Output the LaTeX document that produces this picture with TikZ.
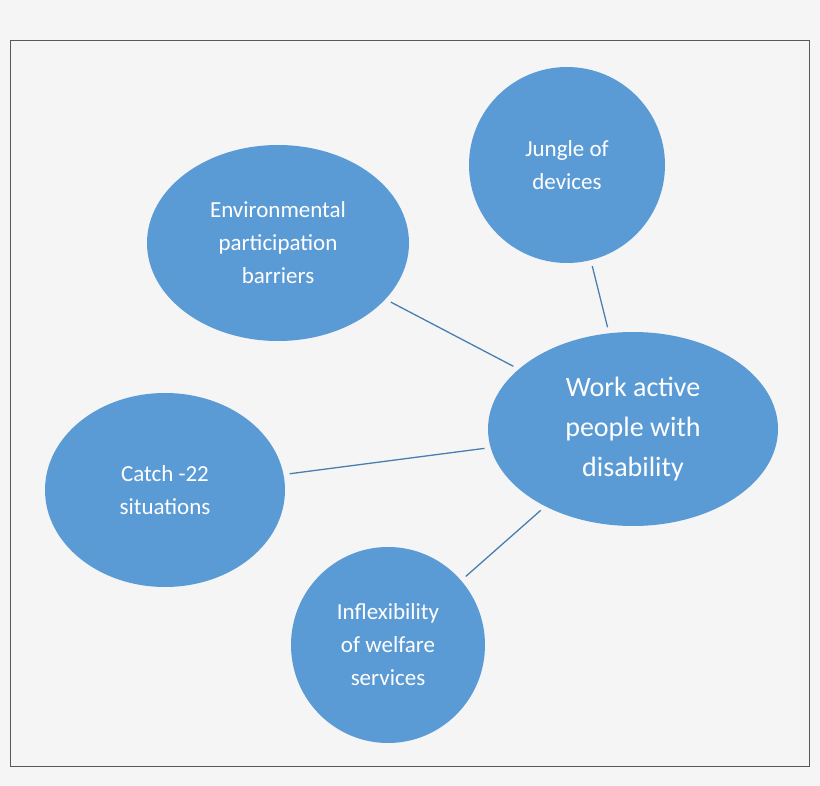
\documentclass[tikz,border=0pt]{standalone}
\usepackage{fontspec}
\setmainfont{Carlito}
\usetikzlibrary{shapes.geometric}
\definecolor{bubble}{HTML}{5B9BD5}
\definecolor{link}{HTML}{4A7EB0}
\definecolor{paper}{HTML}{F5F5F5}

\begin{document}
\begin{tikzpicture}[x=1pt, y=-1pt]
  \tikzset{topic/.style={ellipse, fill=bubble, text=white, align=center, inner sep=0pt,
      font=\fontsize{23}{33}\selectfont}}
  \tikzset{link_line/.style={draw=link, line width=1.3pt, shorten <=6pt, shorten >=6pt}}

  \fill[paper] (0,0) rectangle (820,786);
  \useasboundingbox (0,0) rectangle (820,786);
  \draw[gray!70!black, line width=0.6pt] (10,40) rectangle (809,766);

  \node[topic, minimum width=290pt, minimum height=194pt,
        font=\fontsize{28}{40}\selectfont] (work) at (633,429) {Work active\\people  with\\disability};
  \node[topic, minimum width=196pt, minimum height=196pt] (jungle) at (567,165) {Jungle of\\devices};
  \node[topic, minimum width=262pt, minimum height=196pt] (env) at (278,243) {Environmental\\participation\\barriers};
  \node[topic, minimum width=240pt, minimum height=194pt] (catch) at (165,490) {Catch -22\\situations};
  \node[topic, minimum width=194pt, minimum height=196pt] (inflex) at (388,645) {Inflexibility\\of welfare\\services};

  \path (jungle) edge [link_line] (work);
  \path (env) edge [link_line] (work);
  \path (catch) edge [link_line] (work);
  \path (inflex) edge [link_line] (work);
\end{tikzpicture}
\end{document}
